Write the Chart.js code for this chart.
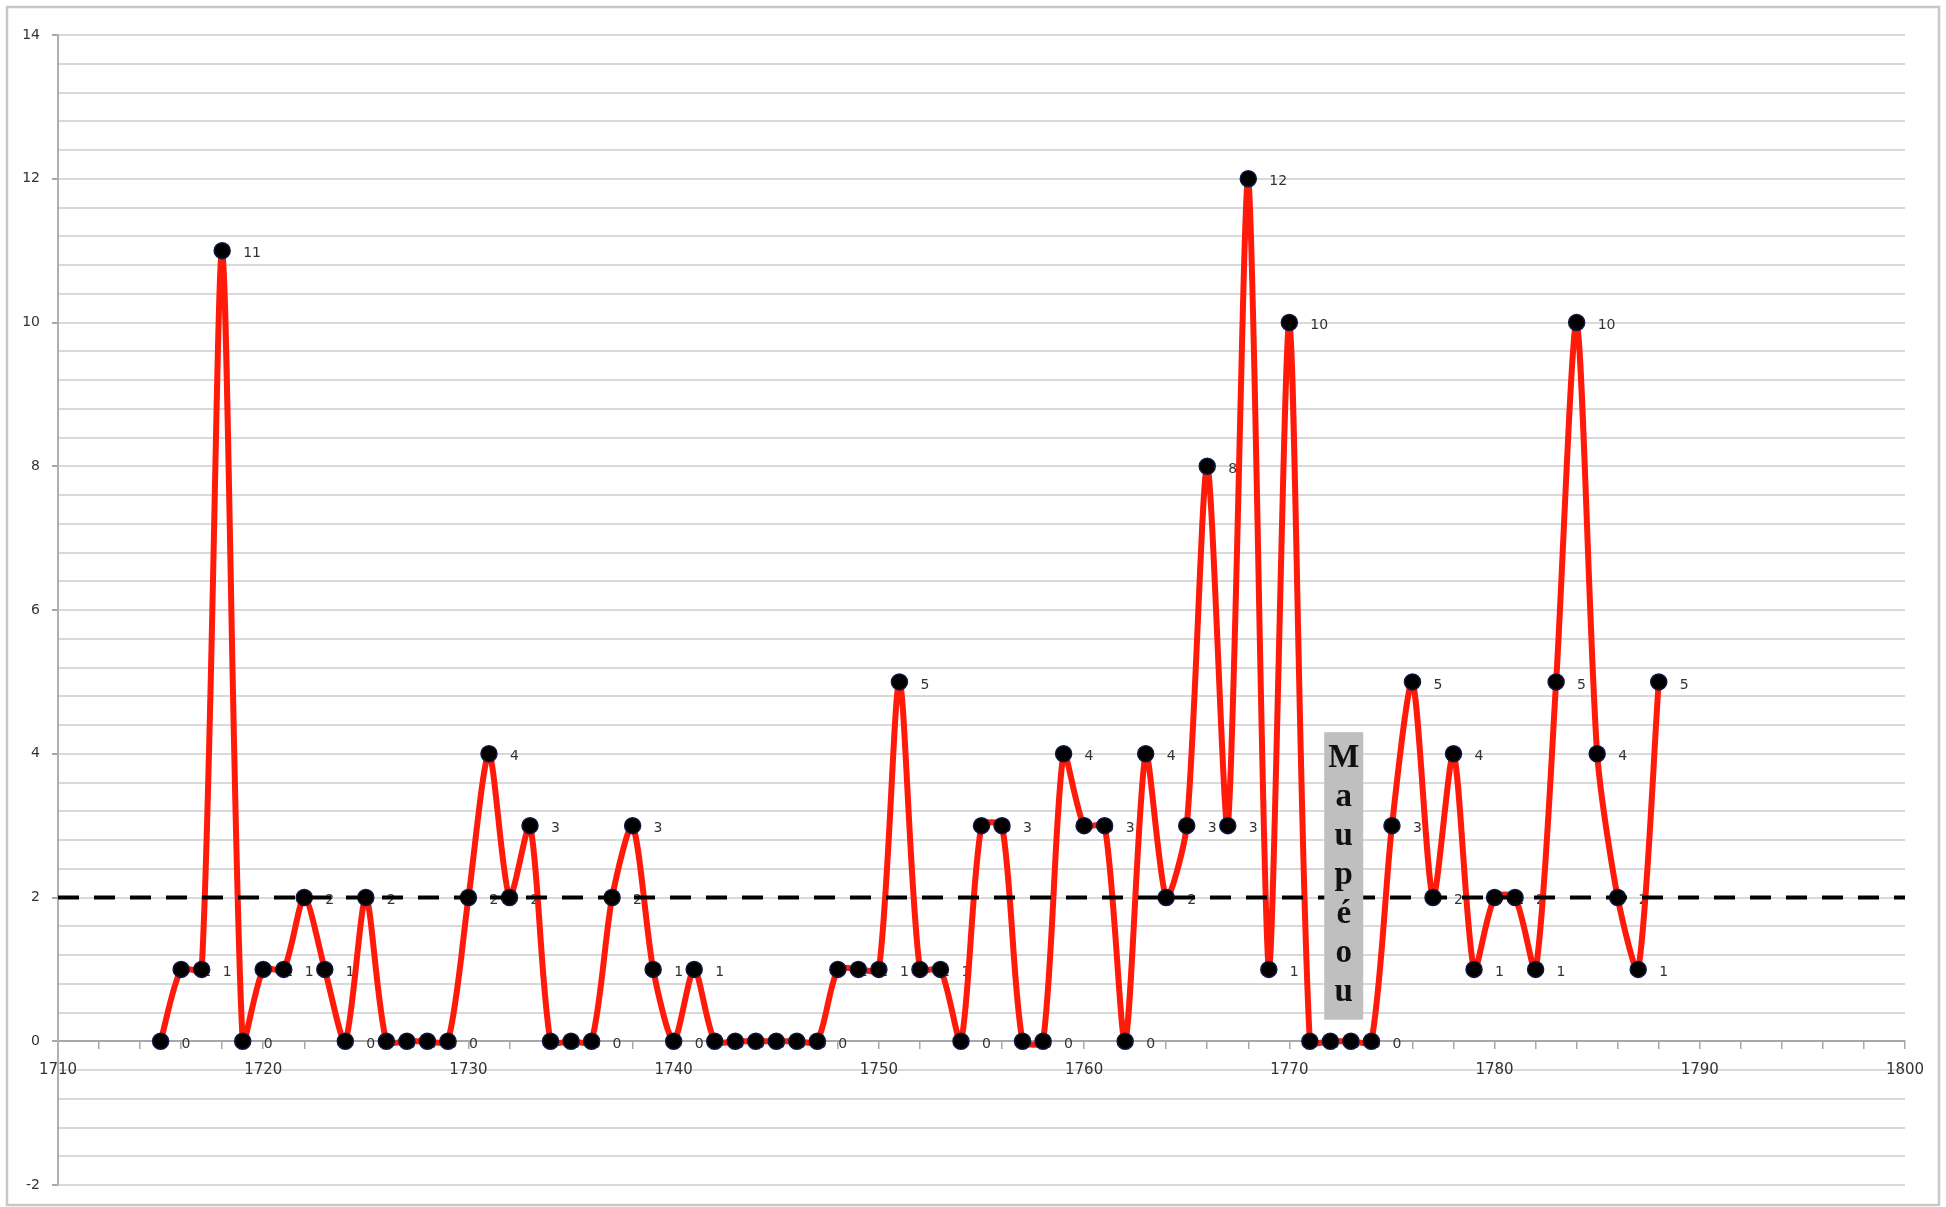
<!DOCTYPE html>
<html>
<head>
<meta charset="utf-8">
<title>Maupéou</title>
<script src="https://cdn.jsdelivr.net/npm/chart.js@4.4.1/dist/chart.umd.min.js"></script>
<style>
  html, body { margin: 0; padding: 0; background: #fff; }
  #wrap { width: 1946px; height: 1207px; }
</style>
</head>
<body>
<div id="wrap"><canvas id="chart"></canvas></div>
<script>
// yearly counts
const years = [1715, 1716, 1717, 1718, 1719, 1720, 1721, 1722, 1723, 1724,
               1725, 1726, 1727, 1728, 1729, 1730, 1731, 1732, 1733, 1734,
               1735, 1736, 1737, 1738, 1739, 1740, 1741, 1742, 1743, 1744,
               1745, 1746, 1747, 1748, 1749, 1750, 1751, 1752, 1753, 1754,
               1755, 1756, 1757, 1758, 1759, 1760, 1761, 1762, 1763, 1764,
               1765, 1766, 1767, 1768, 1769, 1770, 1771, 1772, 1773, 1774,
               1775, 1776, 1777, 1778, 1779, 1780, 1781, 1782, 1783, 1784,
               1785, 1786, 1787, 1788];
const counts = [0, 1, 1, 11, 0, 1, 1, 2, 1, 0,
                2, 0, 0, 0, 0, 2, 4, 2, 3, 0,
                0, 0, 2, 3, 1, 0, 1, 0, 0, 0,
                0, 0, 0, 1, 1, 1, 5, 1, 1, 0,
                3, 3, 0, 0, 4, 3, 3, 0, 4, 2,
                3, 8, 3, 12, 1, 10, 0, 0, 0, 0,
                3, 5, 2, 4, 1, 2, 2, 1, 5, 10,
                4, 2, 1, 5];

// dashed reference line at 2
const thresholdYears = [1710, 1800];
const thresholdValues = [2, 2];

const xTickLabels = [1710, 1720, 1730, 1740, 1750, 1760, 1770, 1780, 1790, 1800];
const yTickLabels = [-2, 0, 2, 4, 6, 8, 10, 12, 14];

// the grey "Maupéou" box, in data units
const maupeouText = 'Maupéou';
const maupeouYears = [1771.7, 1773.6];
const maupeouValues = [0.3, 4.3];

const chartBorder = {
    id: 'chartBorder',
    beforeDraw(chart) {
        const ctx = chart.ctx;
        ctx.save();
        ctx.fillStyle = '#ffffff';
        ctx.fillRect(0, 0, chart.width, chart.height);
        ctx.strokeStyle = '#c8c8c8';
        ctx.lineWidth = 2.5;
        ctx.strokeRect(7, 7, chart.width - 14, chart.height - 9);
        ctx.restore();
    }
};

// value labels to the right of each marker, drawn under the line
const pointLabels = {
    id: 'pointLabels',
    beforeDatasetsDraw(chart) {
        const meta = chart.getDatasetMeta(1);
        const ctx = chart.ctx;
        ctx.save();
        ctx.font = '14px "DejaVu Sans"';
        ctx.fillStyle = '#333333';
        ctx.textAlign = 'left';
        ctx.textBaseline = 'middle';
        meta.data.forEach(function (pt, i) {
            ctx.fillText(String(counts[i]), pt.x + 21, pt.y + 3);
        });
        ctx.restore();
    }
};

const maupeouBox = {
    id: 'maupeouBox',
    afterDatasetsDraw(chart) {
        const xs = chart.scales.x;
        const ys = chart.scales.y;
        const left = xs.getPixelForValue(maupeouYears[0]);
        const right = xs.getPixelForValue(maupeouYears[1]);
        const top = ys.getPixelForValue(maupeouValues[1]);
        const bottom = ys.getPixelForValue(maupeouValues[0]);
        const ctx = chart.ctx;
        ctx.save();
        ctx.fillStyle = '#bfbfbf';
        ctx.fillRect(left, top, right - left, bottom - top);
        ctx.fillStyle = '#111111';
        ctx.font = 'bold 33px "Liberation Serif"';
        ctx.textAlign = 'center';
        ctx.textBaseline = 'alphabetic';
        const cx = (left + right) / 2;
        Array.from(maupeouText).forEach(function (ch, k) {
            ctx.fillText(ch, cx, top + 35 + k * 39);
        });
        ctx.restore();
    }
};

const ctx = document.getElementById('chart').getContext('2d');
new Chart(ctx, {
    type: 'line',
    data: {
        datasets: [{
            data: thresholdYears.map((x, i) => ({ x: x, y: thresholdValues[i] })),
            borderColor: '#000000',
            borderWidth: 4,
            borderDash: [21, 15],
            pointRadius: 0,
            tension: 0
        }, {
            data: years.map((x, i) => ({ x: x, y: counts[i] })),
            borderColor: '#ff1a0a',
            borderWidth: 6,
            tension: 0.25,
            pointRadius: 8,
            pointBackgroundColor: '#000000',
            pointBorderColor: '#101840',
            pointBorderWidth: 1.5
        }]
    },
    options: {
        responsive: true,
        maintainAspectRatio: false,
        animation: false,
        layout: { padding: { left: 0, top: 35, right: 41, bottom: 22 } },
        plugins: {
            legend: { display: false },
            tooltip: { enabled: false }
        },
        scales: {
            x: {
                type: 'linear',
                position: { y: 0 },
                min: 1710,
                max: 1800,
                ticks: {
                    stepSize: 2,
                    autoSkip: false,
                    maxRotation: 0,
                    padding: 13,
                    color: '#333333',
                    font: { family: 'DejaVu Sans', size: 15 },
                    callback: function (value) {
                        return xTickLabels.includes(Math.round(value)) ? String(Math.round(value)) : '';
                    }
                },
                grid: {
                    drawOnChartArea: false,
                    tickLength: 7,
                    color: '#a8a8a8',
                    lineWidth: 1.5
                },
                border: { color: '#a8a8a8', width: 2 }
            },
            y: {
                min: -2,
                max: 14,
                afterFit: function (scale) { scale.width = 58; },
                ticks: {
                    stepSize: 0.4,
                    autoSkip: false,
                    padding: 12,
                    color: '#333333',
                    font: { family: 'DejaVu Sans', size: 14 },
                    callback: function (value) {
                        const v = Math.round(value * 10) / 10;
                        return yTickLabels.includes(v) ? String(v) : '';
                    }
                },
                grid: {
                    color: '#d9d9d9',
                    lineWidth: 2,
                    tickLength: 6,
                    tickColor: function (c) {
                        const v = Math.round(c.tick.value * 10) / 10;
                        return yTickLabels.includes(v) ? '#a8a8a8' : 'rgba(0,0,0,0)';
                    }
                },
                border: { color: '#b0b0b0', width: 2 }
            }
        }
    },
    plugins: [chartBorder, pointLabels, maupeouBox]
});
</script>
</body>
</html>
